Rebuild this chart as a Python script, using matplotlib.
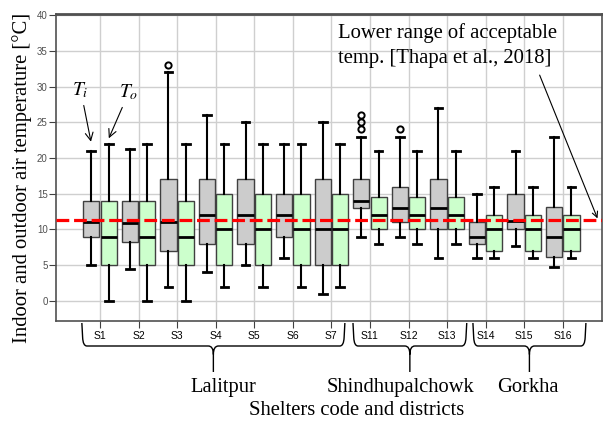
import numpy as np
import matplotlib.pyplot as plt
from matplotlib.path import Path
from matplotlib.patches import PathPatch
import matplotlib.transforms as mtransforms

plt.rcParams['mathtext.fontset'] = 'stix'

# ── Data ──
shelters = ['S1', 'S2', 'S3', 'S4', 'S5', 'S6', 'S7',
            'S11', 'S12', 'S13', 'S14', 'S15', 'S16']

# indoor air temperature Ti
ti_low = [5, 4.5, 2, 4, 5, 6, 1, 9, 9, 6, 6, 7.7, 4.8]
ti_q1 = [9, 8.3, 7, 8, 8, 9, 5, 13, 11, 10, 8, 10, 6.1]
ti_med = [11, 10.9, 11, 12, 12, 12, 10, 14, 13, 13, 9, 11.2, 9]
ti_q3 = [14, 14, 17, 17, 17, 15, 17, 17, 16, 17, 11, 15, 13.2]
ti_high = [21, 21.3, 32, 26, 25, 22, 25, 23, 23, 27, 15, 21, 23]
ti_out = [[], [], [33], [], [], [], [], [24, 25, 26], [24], [], [], [], []]

# outdoor air temperature To
to_low = [0, 0, 0, 2, 2, 2, 2, 8, 8, 8, 6, 6, 6]
to_q1 = [5, 5, 5, 5, 5, 5, 5, 10, 10, 10, 7, 7, 7]
to_med = [9, 9, 9, 10, 10, 10, 10, 12, 12, 12, 10, 10, 10]
to_q3 = [14, 14, 14, 15, 15, 15, 15, 14.5, 14.5, 14.5, 12, 12, 12]
to_high = [22, 22, 22, 22, 22, 22, 22, 21, 21, 21, 16, 16, 16]
to_out = [[] for _ in shelters]

lower_limit = 11.3

districts = ['Lalitpur', 'Shindhupalchowk', 'Gorkha']
district_span = [(0.53, 7.35), (7.56, 10.51), (10.67, 13.6)]
district_label_x = [4.19, 8.80, 12.09]


def make_stats(lo, q1, med, q3, hi, out):
    return [dict(whislo=a, q1=b, med=c, q3=d, whishi=e, fliers=f)
            for a, b, c, d, e, f in zip(lo, q1, med, q3, hi, out)]


pos = np.arange(1, len(shelters) + 1)

fig = plt.figure(figsize=(6.03, 4.26), dpi=100)
ax = fig.add_axes([0.0929, 0.2465, 0.905, 0.7205])

ax.set_axisbelow(True)
ax.grid(True, color='#cfcfcf', lw=1.0)

common = dict(widths=0.42, patch_artist=True, capwidths=0.2,
              whiskerprops=dict(color='black', lw=1.5),
              capprops=dict(color='black', lw=2),
              medianprops=dict(color='black', lw=2),
              flierprops=dict(marker='o', markerfacecolor='none',
                              markeredgecolor='black', markersize=4.5,
                              markeredgewidth=1.4))

ax.bxp(make_stats(ti_low, ti_q1, ti_med, ti_q3, ti_high, ti_out),
       positions=pos - 0.225,
       boxprops=dict(facecolor='#cccccc', edgecolor='#404040', lw=1),
       **common)
ax.bxp(make_stats(to_low, to_q1, to_med, to_q3, to_high, to_out),
       positions=pos + 0.225,
       boxprops=dict(facecolor='#ccffcc', edgecolor='#404040', lw=1),
       **common)

ax.axhline(lower_limit, color='#ff0000', lw=2.3, dashes=(4, 1.5), zorder=5)

ax.set_xlim(-0.14, 14.01)
ax.set_ylim(-2.8, 40.14)
ax.set_xticks(pos)
ax.set_xticklabels(shelters, family='Liberation Sans', fontsize=7.5)
ax.set_yticks(np.arange(0, 41, 5))
ax.tick_params(axis='y', labelsize=7, labelcolor='#505050', length=5,
               pad=1, color='#404040')
ax.tick_params(axis='x', length=5, pad=2, color='#404040')
for lab in ax.get_yticklabels():
    lab.set_family('Liberation Sans')

for s in ax.spines.values():
    s.set_color('#505050')
    s.set_linewidth(1.2)
ax.spines['top'].set_linewidth(2)

ax.set_ylabel('Indoor and outdoor air temperature [°C]',
              family='Liberation Serif', fontsize=14.9)
ax.yaxis.set_label_coords(-0.044, 0.466)

# Ti / To labels
ax.annotate(r'$T_i$', xy=(0.78, 21.9), xytext=(0.5, 29.5),
            fontsize=14, ha='center', va='center',
            arrowprops=dict(arrowstyle='->', color='black', lw=0.8))
ax.annotate(r'$T_o$', xy=(1.2, 22.4), xytext=(1.75, 29.2),
            fontsize=14, ha='center', va='center',
            arrowprops=dict(arrowstyle='->', color='black', lw=0.8))

# acceptable temperature note
ax.text(7.17, 38.9, 'Lower range of acceptable\ntemp. [Thapa et al., 2018]',
        family='Liberation Serif', fontsize=14.9, ha='left', va='top',
        linespacing=1.45)
ax.annotate('', xy=(13.9, lower_limit + 0.25), xytext=(12.4, 31.6),
            arrowprops=dict(arrowstyle='->', color='black', lw=0.8,
                            shrinkA=0, shrinkB=0))

# district braces
trans = mtransforms.blended_transform_factory(ax.transData, fig.transFigure)
y_top, y_h, y_bot = 0.2418, 0.1878, 0.1268
ry, r = 0.02, 0.13
for name, (x0, x1), lx in zip(districts, district_span, district_label_x):
    xm = (x0 + x1) / 2
    verts = [(x0, y_top), (x0 + 0.02, y_h + ry), (x0 + 0.03, y_h), (x0 + r, y_h),
             (xm - r, y_h), (xm, y_h), (xm, y_h - ry), (xm, y_bot),
             (x1, y_top), (x1 - 0.02, y_h + ry), (x1 - 0.03, y_h), (x1 - r, y_h),
             (xm + r, y_h), (xm, y_h), (xm, y_h - ry)]
    codes = [Path.MOVETO, Path.LINETO, Path.CURVE3, Path.CURVE3,
             Path.LINETO, Path.CURVE3, Path.CURVE3, Path.LINETO,
             Path.MOVETO, Path.LINETO, Path.CURVE3, Path.CURVE3,
             Path.LINETO, Path.CURVE3, Path.CURVE3]
    ax.add_patch(PathPatch(Path(verts, codes), transform=trans, fill=False,
                           lw=1.0, edgecolor='black', clip_on=False))
    ax.text(lx, 0.0915, name, transform=trans, ha='center', va='center',
            family='Liberation Serif', fontsize=14.8)

fig.text(0.592, 0.036, 'Shelters code and districts', ha='center', va='center',
         family='Liberation Serif', fontsize=14.9)

fig.savefig('out.png', dpi=100)
